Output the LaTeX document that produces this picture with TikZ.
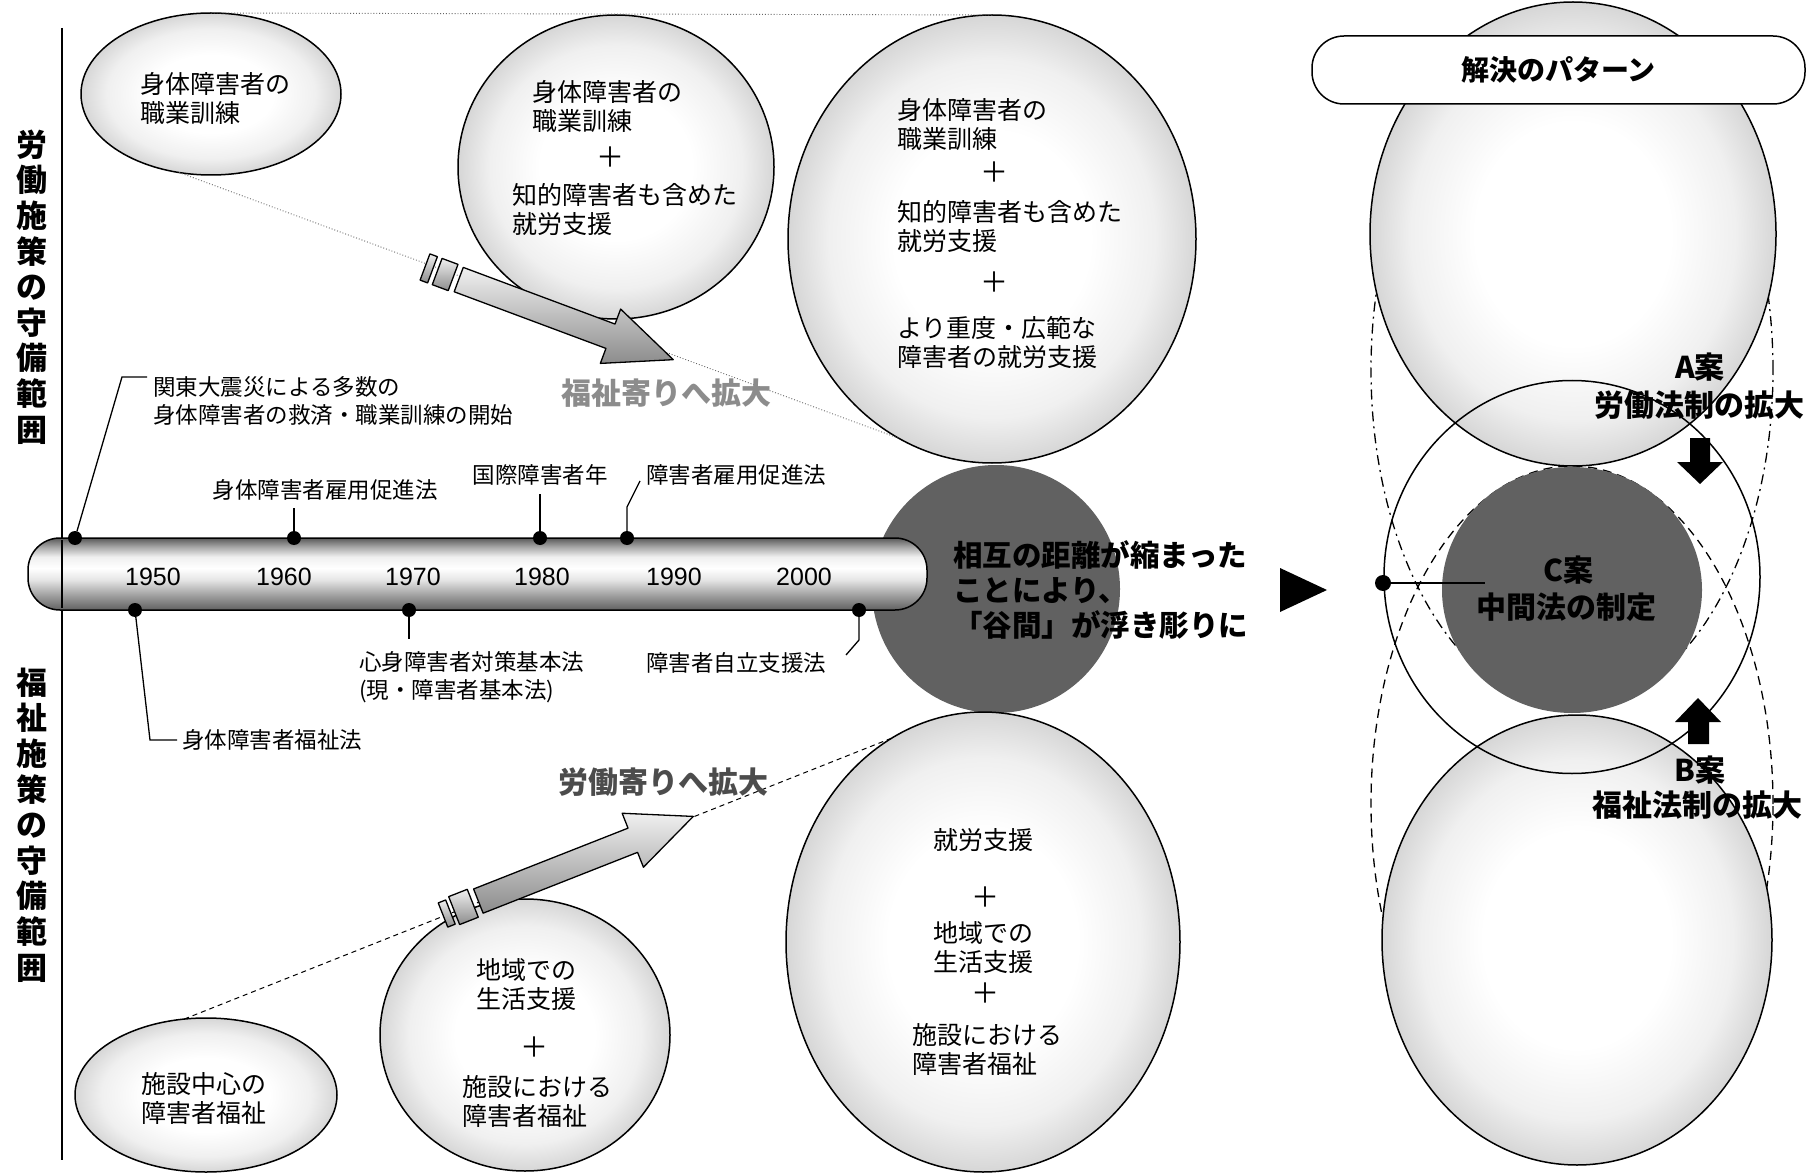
\documentclass[tikz,border=0pt]{standalone}
\usepackage{fontspec}
\setmainfont{Liberation Sans}
\newfontfamily\jp{Noto Sans CJK JP}
\usetikzlibrary{shapes.geometric,calc}
\pgfdeclareradialshading{speck}{\pgfpoint{0bp}{0bp}}{color(0bp)=(white); color(12bp)=(white); color(20bp)=(black!6); color(25bp)=(black!16); color(50bp)=(black!16)}
\pgfdeclareverticalshading{tube}{100bp}{color(0bp)=(black!60); color(25bp)=(black!62); color(35bp)=(black!38); color(46bp)=(black!10); color(54bp)=(white); color(62bp)=(black!6); color(69bp)=(black!35); color(75bp)=(black!65); color(100bp)=(black!65)}
\begin{document}
\begin{tikzpicture}[x=1pt,y=-1pt,
  bub/.style={ellipse, draw=black, line width=1.5pt, shading=speck, inner sep=0pt, outer sep=0pt},
  ring/.style={ellipse, draw=black, line width=1.5pt, inner sep=0pt, outer sep=0pt},
  darkc/.style={ellipse, fill=black!62, inner sep=0pt, outer sep=0pt},
  etxt/.style={font=\jp\fontsize{25}{29}\selectfont, align=left, inner sep=0pt, anchor=west},
  plus/.style={font=\jp\fontsize{28}{28}\selectfont, inner sep=0pt},
  lab/.style={font=\jp\fontsize{22.5}{28}\selectfont, align=left, inner sep=0pt},
  yr/.style={font=\fontsize{25}{25}\selectfont, inner sep=0pt},
  head/.style={font=\jp\bfseries\fontsize{31}{35.6}\selectfont, align=center, inner sep=0pt},
  big/.style={font=\jp\bfseries\fontsize{30}{36}\selectfont, align=center, inner sep=0pt},
  dot/.style={circle, fill=black, minimum size=14pt, inner sep=0pt, outer sep=0pt},
  conn/.style={draw=black, line width=1.3pt},
  arrowfill/.style={draw=black, line width=1.3pt, line join=round, top color=black!6, bottom color=black!45},
  thindot/.style={draw=black!60, line width=0.9pt, dotted},
  thindash/.style={draw=black, line width=1pt, dash pattern=on 5pt off 4pt}
]
\useasboundingbox (0,0) rectangle (1816,1174);
\fill[white] (0,0) rectangle (1816,1174);

% ---------- left part: ellipses ----------
\node[darkc, minimum width=248pt, minimum height=248pt] (D1) at (996,589) {};
\node[bub, minimum width=260pt, minimum height=162pt] (E1) at (211,94) {};
\node[bub, minimum width=316pt, minimum height=304pt] (E2) at (616,167) {};
\node[bub, minimum width=408pt, minimum height=448pt] (E3) at (992,239) {};
\node[bub, minimum width=394pt, minimum height=460pt] (E4) at (983,942) {};
\node[bub, minimum width=290pt, minimum height=272pt] (E5) at (525,1035) {};
\node[bub, minimum width=262pt, minimum height=154pt] (E6) at (206,1095) {};

% expansion guide lines
\draw[thindot] (E1.north) -- (E3.north);
\draw[thindot] (E1.248) -- (E3.245);
\draw[thindash] (E6.106) -- (E4.114);

% divider
\draw[line width=1.2pt] (62,28) -- (62,1160);

% headings
\node[head] (H1) at (32,287) {労\\働\\施\\策\\の\\守\\備\\範\\囲};
\node[head] (H2) at (32,825) {福\\祉\\施\\策\\の\\守\\備\\範\\囲};

% ellipse texts
\node[etxt] (t1) at (140,99) {身体障害者の\\職業訓練};
\node[etxt] (t2a) at (532,107) {身体障害者の\\職業訓練};
\node[plus] (t2p) at (610,157) {＋};
\node[etxt] (t2b) at (512,209) {知的障害者も含めた\\就労支援};
\node[etxt] (t3a) at (897,125) {身体障害者の\\職業訓練};
\node[plus] (t3p) at (994,172) {＋};
\node[etxt] (t3b) at (897,226) {知的障害者も含めた\\就労支援};
\node[plus] (t3q) at (994,282) {＋};
\node[etxt] (t3c) at (897,342) {より重度・広範な\\障害者の就労支援};
\node[etxt] (t4a) at (933,840) {就労支援};
\node[plus] (t4p) at (985,897) {＋};
\node[etxt] (t4b) at (933,948) {地域での\\生活支援};
\node[plus] (t4q) at (985,993) {＋};
\node[etxt] (t4c) at (912,1049) {施設における\\障害者福祉};
\node[etxt] (t5a) at (476,985) {地域での\\生活支援};
\node[plus] (t5p) at (534,1047) {＋};
\node[etxt] (t5b) at (462,1101) {施設における\\障害者福祉};
\node[etxt] (t6) at (141,1098) {施設中心の\\障害者福祉};

% ---------- timeline ----------
\node[draw=black, line width=1.5pt, shading=tube, rounded corners=32pt, minimum width=899pt, minimum height=72pt, inner sep=0pt] (bar) at (477.5,574) {};
\draw[line width=1.2pt] (62,540) -- (62,608);
\node[yr] (y1) at (153,577) {1950};
\node[yr] (y2) at (284,577) {1960};
\node[yr] (y3) at (413,577) {1970};
\node[yr] (y4) at (542,577) {1980};
\node[yr] (y5) at (674,577) {1990};
\node[yr] (y6) at (804,577) {2000};

\node[dot] (d1) at (75,538) {};
\node[dot] (d2) at (294,538) {};
\node[dot] (d3) at (540,538) {};
\node[dot] (d4) at (627,538) {};
\node[dot] (d5) at (135,610) {};
\node[dot] (d6) at (409,610) {};
\node[dot] (d7) at (859,610) {};

\coordinate (k1) at (122,377); \coordinate (k1e) at (147,377);
\coordinate (k2) at (294,508);
\coordinate (k3) at (540,494);
\coordinate (k4) at (627,507); \coordinate (k4e) at (640,481);
\coordinate (k5) at (150,740); \coordinate (k5e) at (177,740);
\coordinate (k6) at (409,639);
\coordinate (k7) at (859,640); \coordinate (k7e) at (846,655);
\draw[conn] (d1) -- (k1) -- (k1e);
\draw[conn] (d2) -- (k2);
\draw[conn] (d3) -- (k3);
\draw[conn] (d4) -- (k4) -- (k4e);
\draw[conn] (d5) -- (k5) -- (k5e);
\draw[conn] (d6) -- (k6);
\draw[conn] (d7) -- (k7) -- (k7e);

\node[lab, anchor=west] (L1) at (153,401) {関東大震災による多数の\\身体障害者の救済・職業訓練の開始};
\node[lab] (L2) at (325,490) {身体障害者雇用促進法};
\node[lab] (L3) at (540,475) {国際障害者年};
\node[lab, anchor=west] (L4) at (646,475) {障害者雇用促進法};
\node[lab, anchor=west] (L5) at (182,740) {身体障害者福祉法};
\node[lab, anchor=west] (L6) at (359,677) {心身障害者対策基本法\\(現・障害者基本法)};
\node[lab, anchor=west] (L7) at (646,663) {障害者自立支援法};

% ---------- block arrows ----------
\coordinate (ta) at (425,267);
\begin{scope}[shift={(ta)}, rotate=-20.47]
  \filldraw[arrowfill] (0,-14) rectangle (8,14);
  \filldraw[arrowfill] (13,-14) rectangle (30,14);
  \filldraw[arrowfill] (36,-13) -- (198,-13) -- (198,-29) -- (265,0) -- (198,29) -- (198,13) -- (36,13) -- cycle;
\end{scope}
\coordinate (tb) at (443,915);
\begin{scope}[shift={(tb)}, rotate=21.5]
  \filldraw[arrowfill] (0,-13) rectangle (8,13);
  \filldraw[arrowfill] (12,-15) rectangle (32,15);
  \filldraw[arrowfill] (38,-13) -- (204,-13) -- (204,-29) -- (269,0) -- (204,29) -- (204,13) -- (38,13) -- cycle;
\end{scope}
\node[big, text=black!45] (X1) at (666,393) {福祉寄りへ拡大};
\node[big, text=black!70] (X2) at (663,782) {労働寄りへ拡大};

% centre message
\node[font=\jp\bfseries\fontsize{29.5}{35}\selectfont, align=left, inner sep=0pt, anchor=west] (M) at (953,590) {相互の距離が縮まった\\ことにより、\\「谷間」が浮き彫りに};

\fill (1280,568) -- (1280,612) -- (1327,590) -- cycle;

% ---------- right part ----------
\node[ellipse, draw=black, line width=1.3pt, dash pattern=on 10pt off 5pt on 2pt off 5pt, minimum width=402pt, minimum height=676pt, inner sep=0pt] (RA) at (1572,370) {};
\node[ellipse, draw=black, line width=1.3pt, dash pattern=on 9pt off 6pt, minimum width=402pt, minimum height=676pt, inner sep=0pt] (RB) at (1572,804) {};
\node[bub, minimum width=406pt, minimum height=464pt] (R1) at (1573,234) {};
\node[bub, minimum width=390pt, minimum height=450pt] (R3) at (1577,940) {};
\node[ring, minimum width=376pt, minimum height=393pt] (R2) at (1572,577) {};
\node[darkc, minimum width=260pt, minimum height=246pt] (R4) at (1572,590) {};
\node[big, text=black] (C1) at (1568,570) {C案};
\node[big, text=black] (C2) at (1566,607) {中間法の制定};

\node[draw=black, line width=1.5pt, fill=white, rounded corners=32pt, minimum width=493pt, minimum height=68pt, inner sep=0pt, font=\jp\bfseries\fontsize{28}{28}\selectfont] (box) at (1558.5,70) {解決のパターン};

\node[big] (A1) at (1700,367) {A案};
\node[big] (A2) at (1699,405) {労働法制の拡大};
\fill (1690,438) -- (1710,438) -- (1710,462) -- (1723,462) -- (1700,484) -- (1677,462) -- (1690,462) -- cycle;
\fill (1688,744) -- (1709,744) -- (1709,722) -- (1721,722) -- (1698,698) -- (1675,722) -- (1688,722) -- cycle;
\node[big] (B1) at (1700,770) {B案};
\node[big] (B2) at (1697,805) {福祉法制の拡大};

\node[dot, minimum size=16pt] (rd) at (1383,583) {};
\coordinate (k8) at (1485,583);
\draw[conn] (rd) -- (k8);
\end{tikzpicture}
\end{document}
